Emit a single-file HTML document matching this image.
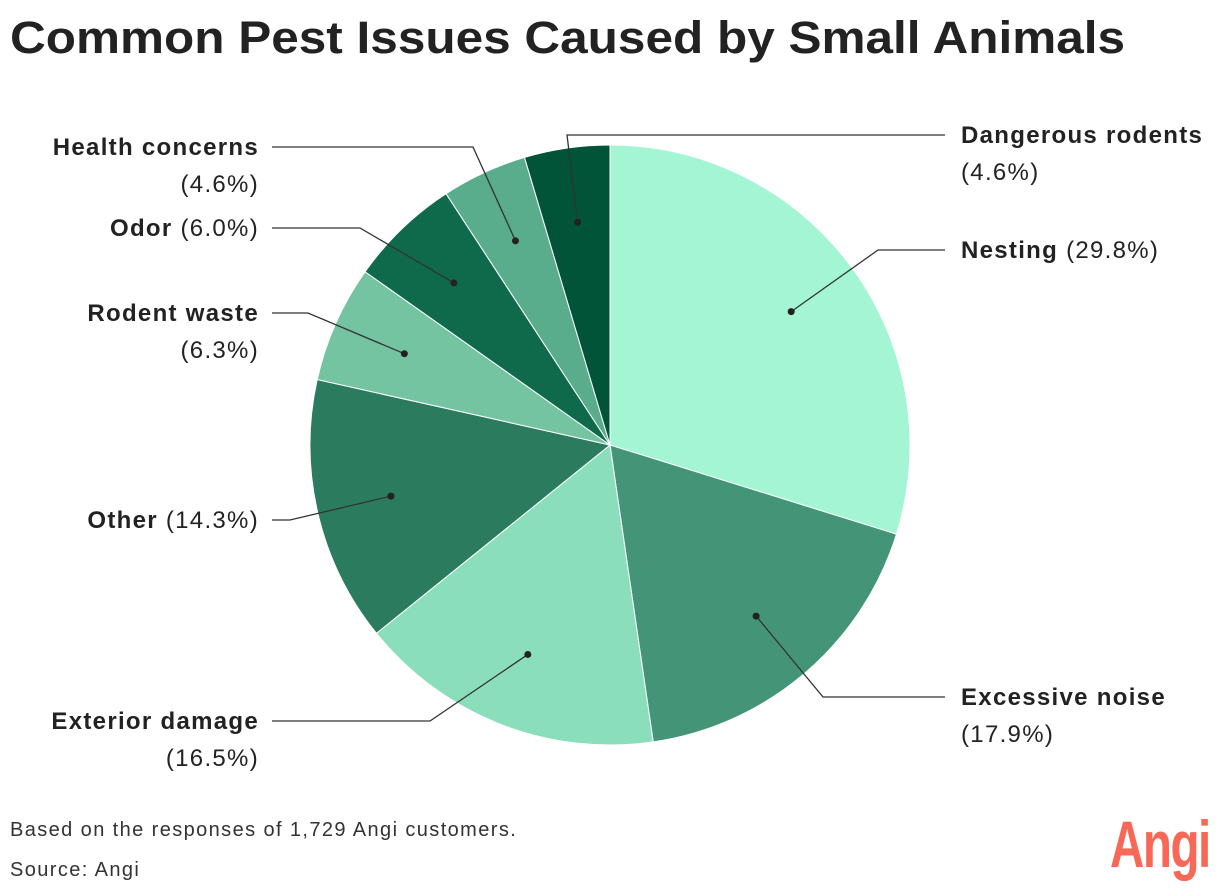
<!DOCTYPE html>
<html><head><meta charset="utf-8">
<style>
body{margin:0;background:#fff;width:1220px;height:896px;overflow:hidden;font-family:"Liberation Sans",sans-serif;color:#222}
h1{position:absolute;left:10px;top:12px;margin:0;font-size:45px;font-weight:900;letter-spacing:0px;color:#222;transform:scaleX(1.10);transform-origin:left top;white-space:nowrap}
.note{position:absolute;left:10px;font-size:20px;letter-spacing:1.4px;color:#333}
.logo{position:absolute;left:1110px;top:806px;font-size:66px;font-weight:bold;color:#f76956;letter-spacing:-2px;transform:scaleX(0.72);transform-origin:left top}
</style></head><body>
<h1>Common Pest Issues Caused by Small Animals</h1>
<svg id="chart" width="1220" height="896" style="position:absolute;left:0;top:0"></svg>
<div class="note" style="top:819px">Based on the responses of 1,729 Angi customers.</div>
<div class="note" style="top:859px">Source: Angi</div>
<div class="logo">Angi</div>
<script>
const categories=["Nesting","Excessive noise","Exterior damage","Other","Rodent waste","Odor","Health concerns","Dangerous rodents"];
const values=[29.8,17.9,16.5,14.3,6.3,6.0,4.6,4.6];
const colors=["#a3f5d3","#449577","#8adebb","#2b7c5e","#74c4a2","#0f6a4c","#5aad8c","#025439"];
const layout=[
 {ex:878,ey:250,lx:945,side:"start",tx:961,ty:250,two:false},
 {ex:823,ey:697,lx:945,side:"start",tx:961,ty:697,two:true},
 {ex:430,ey:721,lx:272,side:"end",tx:259,ty:721,two:true},
 {ex:290,ey:520,lx:272,side:"end",tx:259,ty:520,two:false},
 {ex:308,ey:313,lx:272,side:"end",tx:259,ty:313,two:true},
 {ex:360,ey:228,lx:272,side:"end",tx:259,ty:228,two:false},
 {ex:473,ey:147,lx:272,side:"end",tx:259,ty:147,two:true},
 {ex:567,ey:135,lx:945,side:"start",tx:961,ty:135,two:true}
];
const NS="http://www.w3.org/2000/svg";
const svg=document.getElementById("chart");
const cx=610,cy=445,R=300;
const total=values.reduce((a,b)=>a+b,0);
function pt(frac,r){const a=frac*2*Math.PI;return [cx+r*Math.sin(a),cy-r*Math.cos(a)];}
let acc=0;
values.forEach((v,i)=>{
  const s=acc/total,e=(acc+v)/total;acc+=v;
  const [x1,y1]=pt(s,R),[x2,y2]=pt(e,R);
  const p=document.createElementNS(NS,"path");
  p.setAttribute("d",`M${cx},${cy}L${x1},${y1}A${R},${R} 0 ${e-s>0.5?1:0} 1 ${x2},${y2}Z`);
  p.setAttribute("fill",colors[i]);p.setAttribute("stroke","#fff");p.setAttribute("stroke-width","1");
  
  
  svg.appendChild(p);
  const [dx,dy]=pt((s+e)/2,R*0.75);
  const L=layout[i];
  const pl=document.createElementNS(NS,"polyline");
  pl.setAttribute("points",`${dx},${dy} ${L.ex},${L.ey} ${L.lx},${L.ey}`);
  pl.setAttribute("fill","none");pl.setAttribute("stroke","#333");pl.setAttribute("stroke-width","1.3");
  
  
  svg.appendChild(pl);
  const c=document.createElementNS(NS,"circle");
  c.setAttribute("cx",dx);c.setAttribute("cy",dy);c.setAttribute("r","3.5");c.setAttribute("fill","#222");
  
  
  svg.appendChild(c);
  const t=document.createElementNS(NS,"text");
  t.setAttribute("x",L.tx);t.setAttribute("y",L.ty+8);t.setAttribute("text-anchor",L.side);
  t.setAttribute("font-size","24");t.setAttribute("letter-spacing","1.3");t.setAttribute("fill","#222");
  
  
  const pct="("+v.toFixed(1)+"%)";
  const b=document.createElementNS(NS,"tspan");b.setAttribute("font-weight","bold");b.textContent=categories[i];
  t.appendChild(b);
  const r2=document.createElementNS(NS,"tspan");
  if(L.two){r2.setAttribute("x",L.tx);r2.setAttribute("dy","37");r2.textContent=pct;}
  else r2.textContent=" "+pct;
  t.appendChild(r2);
  svg.appendChild(t);
});
</script>
</body></html>
